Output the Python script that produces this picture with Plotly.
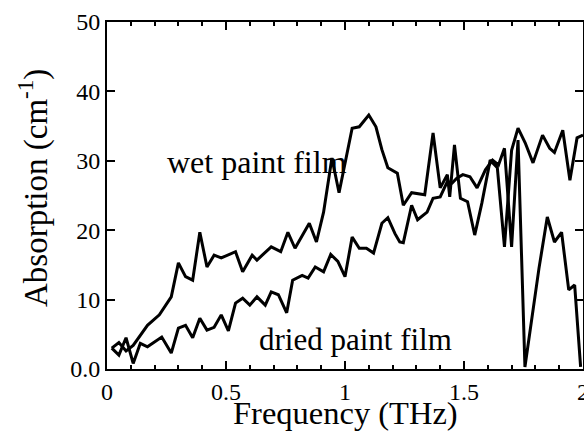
import plotly.graph_objects as go

# Wet paint film absorption spectrum
wet_freq = [0.02, 0.05, 0.08, 0.11, 0.17, 0.22, 0.27, 0.30, 0.33, 0.36, 0.39, 0.42, 0.45, 0.48,
            0.54, 0.57, 0.61, 0.63, 0.69, 0.73, 0.76, 0.79, 0.85, 0.88, 0.91, 0.945, 0.975,
            1.03, 1.06, 1.10, 1.13, 1.155, 1.18, 1.22, 1.245, 1.28, 1.335, 1.37, 1.40, 1.43,
            1.44, 1.46, 1.485, 1.515, 1.545, 1.575, 1.61, 1.64, 1.67, 1.70, 1.727, 1.757,
            1.79, 1.83, 1.86, 1.88, 1.915, 1.945, 1.975, 2.0]
wet_abs = [3.0, 3.8, 2.6, 3.4, 6.3, 7.8, 10.4, 15.3, 13.3, 12.8, 19.7, 14.7, 16.4, 16.0,
           16.9, 14.0, 16.4, 15.7, 17.6, 16.9, 19.7, 17.4, 21.0, 18.3, 22.6, 30.4, 25.4,
           34.7, 34.9, 36.6, 34.9, 31.6, 29.0, 28.2, 23.6, 25.4, 25.1, 34.0, 26.1, 28.0,
           24.8, 32.3, 24.6, 24.1, 19.3, 23.9, 30.1, 29.0, 17.6, 31.5, 34.7, 32.6,
           29.7, 33.7, 31.8, 31.2, 34.4, 27.2, 33.3, 33.7]

# Dried paint film absorption spectrum
dried_freq = [0.02, 0.05, 0.08, 0.11, 0.14, 0.17, 0.23, 0.27, 0.30, 0.33, 0.36, 0.39, 0.42, 0.45,
              0.48, 0.51, 0.54, 0.57, 0.60, 0.63, 0.665, 0.69, 0.72, 0.755, 0.78, 0.82, 0.845,
              0.875, 0.91, 0.94, 0.97, 1.0, 1.03, 1.06, 1.09, 1.12, 1.155, 1.18, 1.21, 1.23,
              1.245, 1.28, 1.305, 1.345, 1.37, 1.40, 1.43, 1.45, 1.47, 1.495, 1.525, 1.555,
              1.59, 1.62, 1.645, 1.67, 1.70, 1.727, 1.756, 1.786, 1.815, 1.85, 1.88, 1.91,
              1.94, 1.965, 1.99]
dried_abs = [3.0, 2.0, 4.5, 0.8, 3.7, 3.2, 4.6, 2.3, 5.9, 6.3, 4.5, 7.3, 5.6, 6.0,
             7.8, 5.5, 9.5, 10.2, 9.2, 10.4, 9.2, 11.1, 10.7, 8.1, 12.8, 13.5, 13.1,
             14.7, 14.0, 16.5, 15.5, 13.3, 19.0, 17.4, 17.4, 16.7, 21.0, 21.8, 19.5, 18.3,
             18.2, 23.6, 21.5, 22.6, 24.6, 24.8, 27.0, 26.8, 27.5, 28.0, 27.7, 26.1,
             28.7, 30.1, 29.4, 31.8, 17.6, 33.0, 0.3, 7.5, 14.5, 21.9, 18.3, 19.7,
             11.4, 12.1, 0.3]

x_tickvals = [0, 0.5, 1, 1.5, 2]
x_ticktext = ["0", "0.5", "1", "1.5", "2"]
y_tickvals = [0, 10, 20, 30, 40, 50]
y_ticktext = ["0.0", "10", "20", "30", "40", "50"]

FONT = "Liberation Serif"

fig = go.Figure()
fig.add_trace(go.Scatter(x=wet_freq, y=wet_abs, mode="lines", name="wet paint film",
                         line=dict(color="black", width=3)))
fig.add_trace(go.Scatter(x=dried_freq, y=dried_abs, mode="lines", name="dried paint film",
                         line=dict(color="black", width=3)))

axis_common = dict(showgrid=False, zeroline=False, showline=True, linecolor="black",
                   linewidth=2, mirror="ticks", ticks="inside", ticklen=8, tickwidth=1.5,
                   tickcolor="black", automargin=False, ticklabeloverflow="allow",
                   tickfont=dict(family=FONT, size=24, color="black"))

fig.update_layout(
    width=584, height=435,
    margin=dict(l=107, r=1, t=22, b=66),
    plot_bgcolor="white", paper_bgcolor="white",
    showlegend=False,
    xaxis=dict(range=[0, 2], tickmode="array", tickvals=x_tickvals, ticktext=x_ticktext,
               minor=dict(dtick=0.1, ticks="inside", ticklen=4, tickcolor="black", tickwidth=1.5),
               **axis_common),
    yaxis=dict(range=[0, 50], tickmode="array", tickvals=y_tickvals, ticktext=y_ticktext,
               **axis_common),
    annotations=[
        dict(text="Frequency (THz)", xref="paper", yref="paper",
             x=0.5, y=-(413 - 369) / 347, showarrow=False,
             xanchor="center", yanchor="middle",
             font=dict(family=FONT, size=32.5, color="black")),
        dict(text="Absorption (cm<sup>-1</sup>)", xref="paper", yref="paper",
             x=(34 - 107) / 476, y=(369 - 188) / 347, textangle=-90, showarrow=False,
             xanchor="center", yanchor="middle",
             font=dict(family=FONT, size=33, color="black")),
        dict(text="wet paint film", xref="x", yref="y", x=0.245, y=29.8, showarrow=False,
             xanchor="left", yanchor="middle", font=dict(family=FONT, size=32, color="black")),
        dict(text="dried paint film", xref="x", yref="y", x=0.632, y=4.3, showarrow=False,
             xanchor="left", yanchor="middle", font=dict(family=FONT, size=31, color="black")),
    ],
)

fig.write_html(
    "out.html",
    config={"displayModeBar": False},
    post_script="document.body.style.margin='0';document.body.style.overflow='hidden';",
)
